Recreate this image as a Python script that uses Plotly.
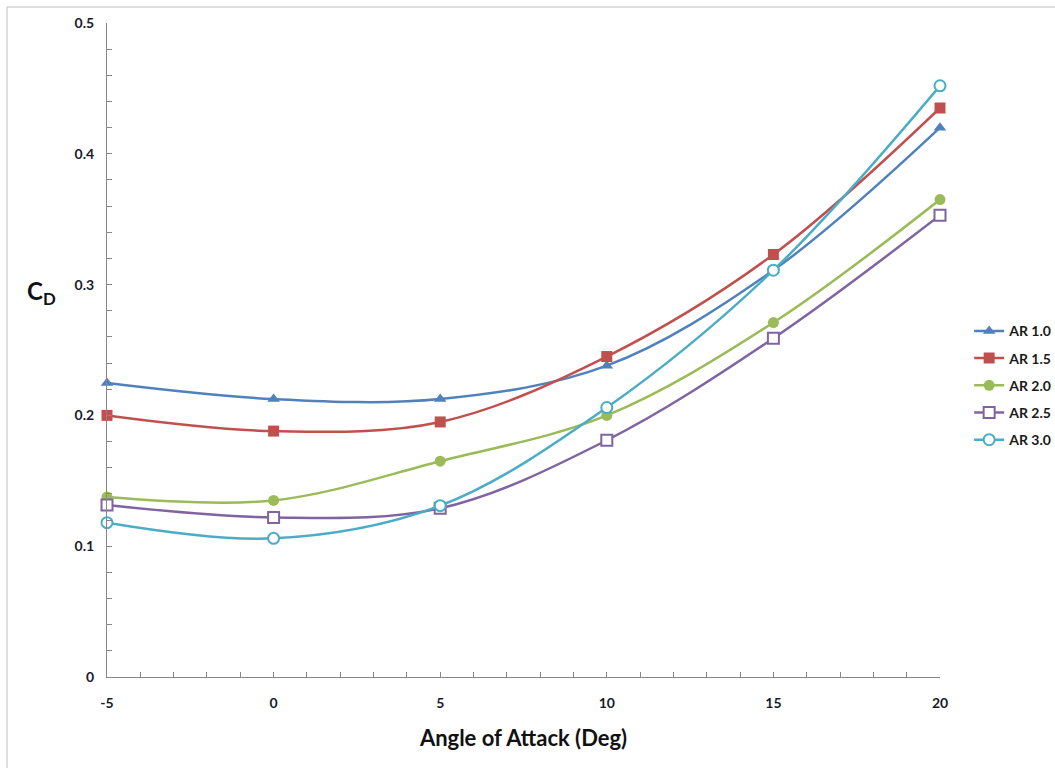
import plotly.graph_objects as go

angles = [-5, 0, 5, 10, 15, 20]
series_names = ["AR 1.0", "AR 1.5", "AR 2.0", "AR 2.5", "AR 3.0"]
ar10 = [0.2248, 0.2125, 0.2125, 0.238, 0.311, 0.420]
ar15 = [0.200, 0.188, 0.195, 0.245, 0.323, 0.435]
ar20 = [0.1376, 0.135, 0.165, 0.200, 0.271, 0.365]
ar25 = [0.1315, 0.122, 0.129, 0.181, 0.259, 0.353]
ar30 = [0.118, 0.106, 0.131, 0.206, 0.311, 0.452]
x_ticks = [-5, 0, 5, 10, 15, 20]
y_ticks = [0, 0.1, 0.2, 0.3, 0.4, 0.5]
y_tick_labels = ["0", "0.1", "0.2", "0.3", "0.4", "0.5"]

values = [ar10, ar15, ar20, ar25, ar30]
colors = ["#4F81BD", "#C0504D", "#9BBB59", "#8064A2", "#4BACC6"]
symbols = ["triangle-up", "square", "circle", "square", "circle"]
fills = ["#4F81BD", "#C0504D", "#9BBB59", "white", "white"]

fig = go.Figure()
for name, vals, c, s, f in zip(series_names, values, colors, symbols, fills):
    fig.add_trace(go.Scatter(
        x=angles, y=vals, name=name, mode="lines+markers", legendgroup=name,
        cliponaxis=False,
        line=dict(color=c, width=2.5, shape="spline", smoothing=1.0),
        marker=dict(symbol=s, size=11, color=f, line=dict(color=c, width=2 if f == "white" else 0)),
    ))

font_family = "Lato, Open Sans, sans-serif"
tick_font = dict(family=font_family, size=14, color="#1a1a2e", weight="bold")

fig.update_layout(
    width=1055, height=768,
    margin=dict(l=107, r=115, t=23, b=91, autoexpand=False),
    paper_bgcolor="white", plot_bgcolor="white",
    showlegend=True,
    legend=dict(x=1.035, xanchor="left", y=0.446, yanchor="middle",
                font=dict(family=font_family, size=14, color="#1a1a1a", weight="bold"),
                tracegroupgap=6, itemwidth=30, bgcolor="rgba(0,0,0,0)"),
    font=dict(family=font_family),
)

fig.update_xaxes(
    range=[-5, 20], tickvals=x_ticks, ticktext=[str(v) for v in x_ticks],
    showgrid=False, zeroline=False, showline=True, linecolor="#868686", linewidth=1,
    ticks="inside", ticklen=5, tickcolor="#868686", tickfont=tick_font,
    ticklabelstandoff=13,
    minor=dict(dtick=1, ticks="inside", ticklen=5, tickcolor="#868686", showgrid=False),
    title=dict(text="Angle of Attack (Deg)", font=dict(family=font_family, size=22, color="#111111", weight="bold"), standoff=20),
)
fig.update_yaxes(
    range=[0, 0.5], tickvals=y_ticks, ticktext=y_tick_labels,
    showgrid=False, zeroline=False, showline=True, linecolor="#868686", linewidth=1,
    ticks="inside", ticklen=5, tickcolor="#868686", tickfont=tick_font,
    ticklabelstandoff=9,
    minor=dict(dtick=0.02, ticks="inside", ticklen=5, tickcolor="#868686", showgrid=False),
)

fig.add_annotation(
    text="C<sub>D</sub>", xref="paper", yref="paper",
    x=(41 - 107) / 833, y=(677 - 292) / 654, xanchor="center", yanchor="middle",
    showarrow=False, font=dict(family=font_family, size=24, color="#111111", weight="bold"),
)

# outer chart-area border (top and left)
fig.add_shape(type="line", xref="paper", yref="paper",
              x0=(7 - 107) / 833, x1=(1055 - 107) / 833, y0=(677 - 7) / 654, y1=(677 - 7) / 654,
              line=dict(color="#bfbfbf", width=1))
fig.add_shape(type="line", xref="paper", yref="paper",
              x0=(7 - 107) / 833, x1=(7 - 107) / 833, y0=(677 - 7) / 654, y1=(677 - 768) / 654,
              line=dict(color="#bfbfbf", width=1))

fig.write_html("out.html")
